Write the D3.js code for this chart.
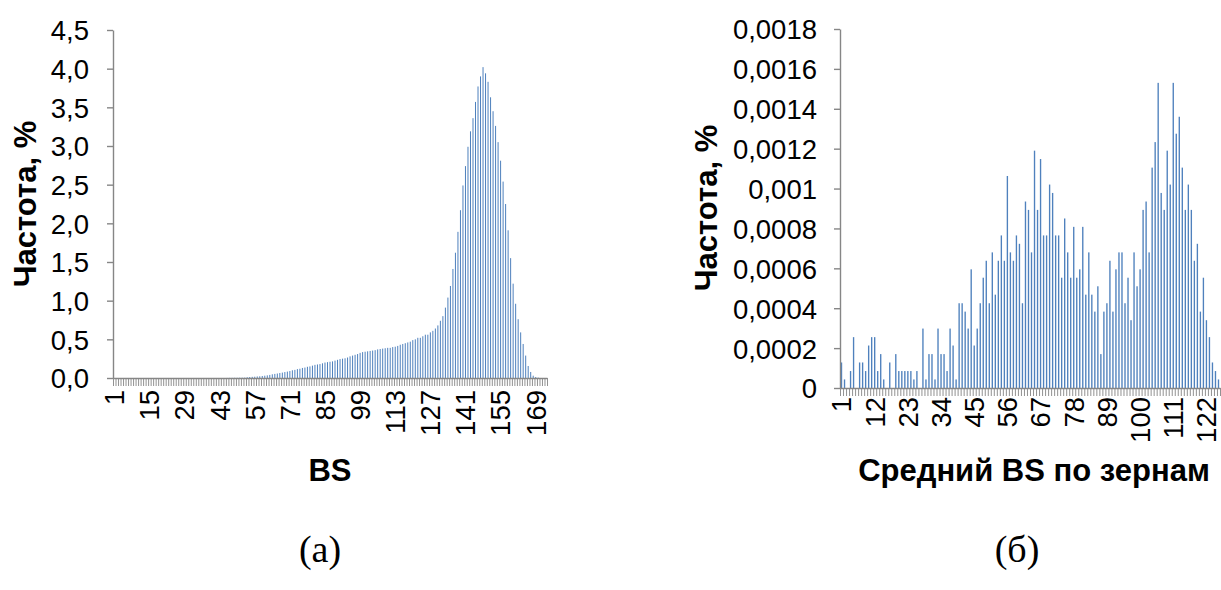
<!DOCTYPE html>
<html><head><meta charset="utf-8">
<script src="https://cdn.jsdelivr.net/npm/d3@7"></script>
<style>
html,body{margin:0;padding:0;background:#fff;}
svg{display:block;}
text{font-family:"Liberation Sans",Arial,sans-serif;fill:#000;}
</style></head>
<body>
<svg id="chart" width="1221" height="590"></svg>
<script>
// ---------- DATA ----------
// Chart (a): frequency (%) per BS value, categories 1..173
const leftValues = [
0,0,0,0,0,0,0,0,0,0, 0,0,0,0,0,0,0,0,0,0,
0,0,0,0,0,0,0,0,0,0, 0,0,0,0,0,0,0,0,0,0,
0,0,0,0,0,0.001,0.002,0.002,0.003,0.003,
0.004,0.004,0.005,0.01,0.013,0.015,0.017,0.02,0.022,0.026,
0.03,0.034,0.04,0.048,0.053,0.058,0.065,0.07,0.077,0.083,
0.09,0.1,0.105,0.115,0.12,0.13,0.135,0.145,0.15,0.16,
0.17,0.175,0.18,0.19,0.2,0.205,0.21,0.215,0.225,0.235,
0.245,0.25,0.255,0.265,0.28,0.29,0.3,0.31,0.325,0.335,
0.34,0.345,0.35,0.355,0.36,0.37,0.375,0.38,0.385,0.39,
0.39,0.40,0.405,0.415,0.43,0.44,0.45,0.46,0.47,0.49,
0.50,0.52,0.52,0.54,0.56,0.56,0.59,0.61,0.64,0.68,
0.74,0.80,0.91,1.04,1.19,1.41,1.62,1.89,2.17,2.49,
2.74,2.99,3.19,3.36,3.57,3.77,3.90,4.02,3.94,3.83,
3.63,3.45,3.26,3.05,2.81,2.54,2.25,1.91,1.55,1.22,
0.96,0.76,0.59,0.44,0.29,0.155,0.078,0.03,0.013,0.005,
0,0,0];
const leftCategories = leftValues.map((d,i)=>String(i+1));
const leftXTickLabels = ["1","15","29","43","57","71","85","99","113","127","141","155","169"];
const leftYTicks = [0,0.5,1,1.5,2,2.5,3,3.5,4,4.5];
const leftYTickLabels = ["0,0","0,5","1,0","1,5","2,0","2,5","3,0","3,5","4,0","4,5"];

// Chart (б): frequency (%) per mean grain BS, categories 1..126
const rightValues = [
0.000128,0.000043,0,0.000085,0.000255,0,0.000128,0.000128,0.000085,0.000213,
0.000255,0.000255,0.000085,0.00017,0.000043,0,0.000128,0,0.00017,0.000085,
0.000085,0.000085,0.000085,0.000085,0.000043,0.000085,0,0.000298,0.000043,0.00017,
0.00017,0.000043,0.000298,0.00017,0.00017,0.000085,0.000298,0.000213,0.000043,0.000425,
0.000425,0.000383,0.000298,0.000595,0.000213,0.000298,0.000425,0.000553,0.000638,0.000425,
0.00068,0.000468,0.000638,0.000765,0.000638,0.001063,0.00068,0.000638,0.000765,0.000723,
0.000425,0.000935,0.000893,0.00068,0.00119,0.000893,0.001148,0.000765,0.000765,0.00102,
0.000978,0.000765,0.000765,0.000553,0.00085,0.00068,0.000553,0.000808,0.000553,0.000595,
0.000808,0.000468,0.00068,0.000468,0.000383,0.00051,0.00017,0.000383,0.000425,0.000638,
0.000383,0.000595,0.00068,0.00068,0.000425,0.000553,0.00034,0.00068,0.00051,0.000595,
0.000893,0.000935,0.00068,0.001105,0.001233,0.00153,0.000978,0.000893,0.00119,0.00102,
0.00153,0.001275,0.00136,0.001105,0.000893,0.00102,0.000893,0.000638,0.000723,0.000383,
0.000553,0.00034,0.000255,0.000128,0.000085,0.000043];
const rightCategories = rightValues.map((d,i)=>String(i+1));
const rightXTickLabels = ["1","12","23","34","45","56","67","78","89","100","111","122"];
const rightYTicks = [0,0.0002,0.0004,0.0006,0.0008,0.001,0.0012,0.0014,0.0016,0.0018];
const rightYTickLabels = ["0","0,0002","0,0004","0,0006","0,0008","0,001","0,0012","0,0014","0,0016","0,0018"];

const titles = {
  leftY: "Частота, %", leftX: "BS", leftCap: "(а)",
  rightY: "Частота, %", rightX: "Средний BS по зернам", rightCap: "(б)"
};

// ---------- LAYOUT / STYLE ----------
const AXIS_COLOR = "#868686";
const BAR_COLOR = "#4F81BD";
const TICK_FS = 27.5, TITLE_FS = 31, CAP_FS = 38;

const svg = d3.select("#chart");

function drawPanel(cfg){
  const g = svg.append("g");
  const x = d3.scaleBand().domain(cfg.categories).range([cfg.x0, cfg.x1]).paddingInner(cfg.pad).paddingOuter(cfg.pad/2);
  const xb = d3.scaleLinear().domain([0, cfg.categories.length]).range([cfg.x0, cfg.x1]);
  const y = d3.scaleLinear().domain([0, cfg.yMax]).range([cfg.y0, cfg.yTop]);

  // bars
  g.append("g").selectAll("rect").data(cfg.values).join("rect")
    .attr("x", (d,i)=>x(cfg.categories[i]))
    .attr("width", x.bandwidth())
    .attr("y", d=>y(d))
    .attr("height", d=>cfg.y0 - y(d))
    .attr("fill", BAR_COLOR);

  // y axis
  const ya = g.append("g").attr("transform", `translate(${cfg.x0},0)`)
    .call(d3.axisLeft(y).tickValues(cfg.yTicks)
      .tickFormat((d,i)=>cfg.yTickLabels[i]).tickSize(6).tickSizeOuter(0));
  ya.select(".domain").attr("stroke", AXIS_COLOR).attr("stroke-width", 1.4);
  ya.selectAll(".tick line").attr("stroke", AXIS_COLOR).attr("stroke-width", 1.4);
  ya.selectAll(".tick text").attr("x",0).attr("y",0).attr("dy","0.36em")
    .attr("text-anchor","end").attr("font-size",TICK_FS)
    .attr("transform", `translate(${-cfg.yLabelGap},0)`);

  // x axis: category boundary tick marks
  const xt = g.append("g").attr("transform", `translate(0,${cfg.y0})`)
    .call(d3.axisBottom(xb).tickValues(d3.range(cfg.categories.length+1))
      .tickFormat(()=>"").tickSize(8).tickSizeOuter(0));
  xt.select(".domain").attr("stroke", AXIS_COLOR).attr("stroke-width", 1.4);
  xt.selectAll(".tick line").attr("stroke", AXIS_COLOR).attr("stroke-width", 0.9);

  // x axis labels
  const xl = g.append("g").attr("transform", `translate(0,${cfg.y0})`)
    .call(d3.axisBottom(x).tickValues(cfg.xTickLabels).tickSize(0));
  xl.select(".domain").remove();
  xl.selectAll(".tick text").attr("x",0).attr("y",0).attr("dy","0.36em")
    .attr("text-anchor","end").attr("font-size",TICK_FS)
    .attr("transform", `translate(0,${cfg.xLabelGap}) rotate(-90)`);

  // titles
  g.append("text").text(cfg.yTitle).attr("font-weight","bold").attr("font-size",TITLE_FS)
    .attr("text-anchor","middle").attr("dy","0.36em")
    .attr("transform", `translate(${cfg.yTitlePos[0]},${cfg.yTitlePos[1]}) rotate(-90)`);
  g.append("text").text(cfg.xTitle).attr("font-weight","bold").attr("font-size",TITLE_FS)
    .attr("text-anchor","middle").attr("dy","0.36em")
    .attr("transform", `translate(${cfg.xTitlePos[0]},${cfg.xTitlePos[1]})`);
  g.append("text").text(cfg.cap).attr("font-size",CAP_FS)
    .style("font-family","'Liberation Serif','Times New Roman',serif")
    .attr("text-anchor","middle").attr("dy","0.36em")
    .attr("transform", `translate(${cfg.capPos[0]},${cfg.capPos[1]})`);
}

drawPanel({
  categories: leftCategories, values: leftValues, xTickLabels: leftXTickLabels,
  yTicks: leftYTicks, yTickLabels: leftYTickLabels, yMax: 4.5,
  x0: 113, x1: 547, y0: 378, yTop: 30, pad: 0.6,
  yLabelGap: 24, xLabelGap: 12,
  yTitle: titles.leftY, yTitlePos: [25, 204],
  xTitle: titles.leftX, xTitlePos: [330, 470],
  cap: titles.leftCap, capPos: [320, 548]
});

drawPanel({
  categories: rightCategories, values: rightValues, xTickLabels: rightXTickLabels,
  yTicks: rightYTicks, yTickLabels: rightYTickLabels, yMax: 0.0018,
  x0: 840, x1: 1220, y0: 388, yTop: 29, pad: 0.55,
  yLabelGap: 23, xLabelGap: 9,
  yTitle: titles.rightY, yTitlePos: [706, 208],
  xTitle: titles.rightX, xTitlePos: [1034, 470],
  cap: titles.rightCap, capPos: [1017, 548]
});
</script>
</body></html>
